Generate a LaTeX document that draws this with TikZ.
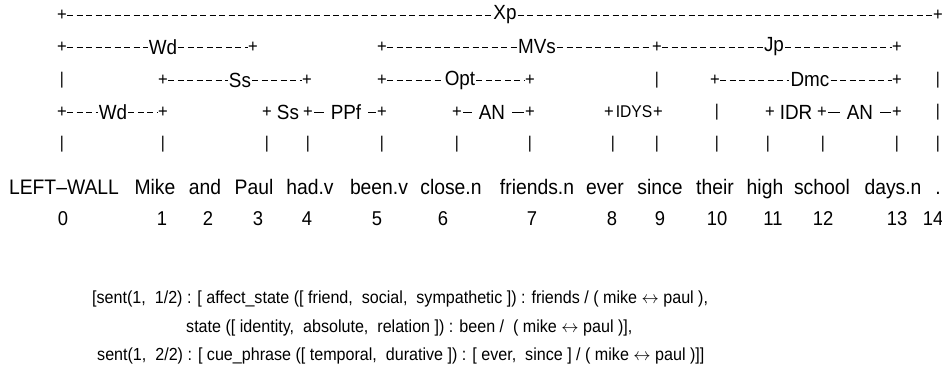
\documentclass[tikz,border=0pt]{standalone}
\usepackage{fontspec}
\setmainfont{Liberation Sans}[FakeStretch=0.92]

\begin{document}
\begin{tikzpicture}[x=1pt,y=-1pt,
    wrd/.style={font=\fontsize{21}{24}\selectfont,inner sep=0pt,anchor=base},
    num/.style={font=\fontsize{20}{24}\selectfont,inner sep=0pt,anchor=base},
    lab/.style={font=\fontsize{20.5}{24}\selectfont,inner sep=1pt},
    pl/.style={font=\fontsize{18}{20}\selectfont,inner sep=0pt},
    bar/.style={font=\fontsize{17}{20}\selectfont,inner sep=0pt},
    lnk/.style={line width=1pt,dash pattern=on 6pt off 3.5pt},
    dsh/.style={line width=1pt,shorten <=1pt,shorten >=6pt},
    sem/.style={font=\fontsize{17.5}{20}\selectfont,anchor=base west,inner sep=0pt}]
        \useasboundingbox (0,0) rectangle (942,365);

        % Xp
        \node[pl] (xpa) at (62,15) {+};
        \node[lab] (xp) at (505,15) {Xp};
        \node[pl] (xpb) at (938,15) {+};
        \draw[lnk] (xpa) -- (xp) (xp) -- (xpb);

        % Wd, MVs, Jp
        \node[pl] (wda) at (62,47) {+};
        \node[lab] (wd) at (163,47) {Wd};
        \node[pl] (wdb) at (253,47) {+};
        \node[pl] (mva) at (382,47) {+};
        \node[lab] (mvs) at (537,47) {MVs};
        \node[pl] (mvb) at (657,47) {+};
        \node[lab] (jp) at (774,47) {Jp};
        \node[pl] (jpb) at (897,47) {+};
        \draw[lnk] (wda) -- (wd) (wd) -- (wdb) (mva) -- (mvs) (mvs) -- (mvb)
            (mvb) -- (jp) (jp) -- (jpb);

        % Ss, Opt, Dmc
        \node[bar] (ra) at (62,80) {|};
        \node[pl] (ssa) at (163,80) {+};
        \node[lab] (ss) at (240,80) {Ss};
        \node[pl] (ssb) at (307,80) {+};
        \node[pl] (opa) at (382,80) {+};
        \node[lab] (opt) at (460,80) {Opt};
        \node[pl] (opb) at (530,80) {+};
        \node[bar] (rb) at (657,80) {|};
        \node[pl] (dma) at (715,80) {+};
        \node[lab] (dmc) at (810,80) {Dmc};
        \node[pl] (dmb) at (897,80) {+};
        \node[bar] (rc) at (938,80) {|};
        \draw[lnk] (ssa) -- (ss) (ss) -- (ssb) (opa) -- (opt) (opt) -- (opb)
            (dma) -- (dmc) (dmc) -- (dmb);

        % short links
        \node[pl] (wea) at (62,112) {+};
        \node[lab] (we) at (113,112) {Wd};
        \node[pl] (web) at (163,112) {+};
        \node[pl] (sta) at (267,112) {+};
        \node[lab] (st) at (288,112) {Ss};
        \node[pl] (stb) at (308,112) {+};
        \node[lab] (ppf) at (346,112) {PPf};
        \node[pl] (ppb) at (382,112) {+};
        \node[pl] (ana) at (457,112) {+};
        \node[lab] (an) at (492,112) {AN};
        \node[pl] (anb) at (530,112) {+};
        \node[pl] (iya) at (609,112) {+};
        \node[lab,font=\fontsize{17}{20}\selectfont,inner sep=0pt] (idys) at (634,112) {IDYS};
        \node[pl] (iyb) at (658,112) {+};
        \node[bar] (rd) at (717,112) {|};
        \node[pl] (ira) at (770,112) {+};
        \node[lab] (idr) at (796,112) {IDR};
        \node[pl] (irb) at (822,112) {+};
        \node[lab] (ao) at (860,112) {AN};
        \node[pl] (aob) at (897,112) {+};
        \node[bar] (re) at (938,112) {|};
        \draw[lnk] (wea) -- (we) (we) -- (web);
        \draw[dsh] (stb) -- (ppf);
        \draw[dsh] (ana) -- (an);
        \draw[dsh] (irb) -- (ao);
        \draw[dsh] (anb) -- (an);
        \draw[dsh] (ppb) -- (ppf);
        \draw[dsh] (aob) -- (ao);

        % bars over the words
        \foreach \x [count=\i] in {62,163,267,308,382,457,530,613,657,717,768,823,897,938}
            \node[bar] (b\i) at (\x,144) {|};

        % words and their numbers
        \foreach \x/\t [count=\i from 0] in {64/LEFT--WALL,155/Mike,205/and,254/Paul,
            310/had.v,379/been.v,451/close.n,537/friends.n,605/ever,660/since,
            715/their,765/high,822/school,893/days.n,938/.}
            \node[wrd] (w\i) at (\x,194) {\t};
        \foreach \x [count=\i from 0] in {63,162,208,258,307,377,443,532,612,660,
            717,773,823,897,933}
            \node[num] (n\i) at (\x,225) {\i};

        \node[sem] (sa) at (92,303) {[sent(1,\ \ 1/2) : [ affect\_state ([ friend,\ \ social,\ \ sympathetic ]) : friends / ( mike $\leftrightarrow$ paul ),};
        \node[sem] (sb) at (186,332) {state ([ identity,\ \ absolute,\ \ relation ]) : been /\ \ ( mike $\leftrightarrow$ paul )],};
        \node[sem] (sc) at (97,360) {sent(1,\ \ 2/2) : [ cue\_phrase ([ temporal,\ \ durative ]) : [ ever,\ \ since ] / ( mike $\leftrightarrow$ paul )]]};
    \end{tikzpicture}
\end{document}
